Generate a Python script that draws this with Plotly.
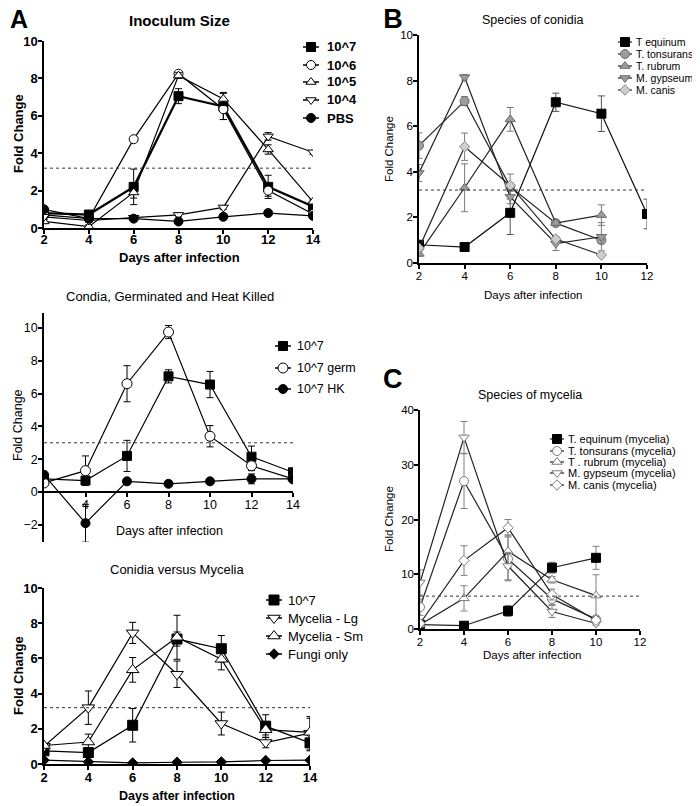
import plotly.graph_objects as go

W, H = 700, 806
FONT = "Arial, 'Liberation Sans', sans-serif"
# the page body places the plot 8px from the window's top-left corner;
# positions below are given in window pixels and shifted back by this offset
OFF_X, OFF_Y = 8, 8

# ---------------- DATA ----------------
days14 = [2, 4, 6, 8, 10, 12, 14]
days12 = [2, 4, 6, 8, 10, 12]
days10 = [2, 4, 6, 8, 10]

# Panel A (top) - Inoculum Size
a1_names = ["10^7", "10^6", "10^5", "10^4", "PBS"]
a1_e7 = [0.8, 0.72, 2.2, 7.05, 6.5, 2.2, 1.15]
a1_e7_err = [0.1, 0.1, 0.95, 0.4, 0.7, 0.62, 0.15]
a1_e6 = [0.7, 0.5, 4.75, 8.25, 6.35, 2.0, 0.75]
a1_e6_err = [0.1, 0.1, 0.1, 0.1, 0.55, 0.3, 0.1]
a1_e5 = [0.35, 0.07, 1.9, 8.15, 6.9, 4.2, 1.4]
a1_e5_err = [0.1, 0.1, 0.3, 0.15, 0.35, 0.25, 0.1]
a1_e4 = [0.6, 0.4, 0.55, 0.7, 1.1, 4.9, 4.05]
a1_e4_err = [0.1, 0.1, 0.1, 0.1, 0.1, 0.2, 0.1]
a1_pbs = [1.0, 0.5, 0.5, 0.35, 0.6, 0.8, 0.65]
a1_pbs_err = [0.1, 0.1, 0.1, 0.1, 0.1, 0.1, 0.1]

# Panel A (middle) - Condia, Germinated and Heat Killed
a2_names = ["10^7", "10^7 germ", "10^7 HK"]
a2_e7 = [0.8, 0.7, 2.2, 7.05, 6.55, 2.15, 1.2]
a2_e7_err = [0.1, 0.1, 0.95, 0.4, 0.8, 0.65, 0.15]
a2_germ = [0.55, 1.3, 6.6, 9.75, 3.4, 1.6, 0.8]
a2_germ_err = [0.1, 0.9, 1.1, 0.4, 0.65, 0.3, 0.1]
a2_hk = [1.05, -1.9, 0.65, 0.5, 0.65, 0.8, 0.8]
a2_hk_err = [0.1, 1.15, 0.1, 0.1, 0.1, 0.3, 0.1]

# Panel A (bottom) - Conidia versus Mycelia
a3_names = ["10^7", "Mycelia - Lg", "Mycelia - Sm", "Fungi only"]
a3_e7 = [0.75, 0.65, 2.2, 7.1, 6.55, 2.15, 1.2]
a3_e7_err = [0.1, 0.1, 0.95, 0.4, 0.75, 0.65, 0.45]
a3_lg = [1.0, 3.2, 7.45, 5.1, 2.3, 1.22, 1.75]
a3_lg_err = [0.1, 0.95, 0.6, 0.75, 0.65, 0.3, 0.95]
a3_sm = [1.05, 1.25, 5.35, 7.2, 5.95, 1.95, 1.8]
a3_sm_err = [0.1, 0.45, 0.7, 1.25, 0.6, 0.3, 0.8]
a3_fungi = [0.22, 0.12, 0.06, 0.1, 0.12, 0.2, 0.22]
a3_fungi_err = [0.05, 0.05, 0.05, 0.05, 0.05, 0.05, 0.05]

# Panel B - Species of conidia
b_names = ["T equinum", "T. tonsurans", "T. rubrum", "M. gypseum", "M. canis"]
b_equ = [0.8, 0.7, 2.2, 7.05, 6.55, 2.15]
b_equ_err = [0.1, 0.1, 0.95, 0.4, 0.78, 0.65]
b_ton = [5.15, 7.1, 3.35, 1.75, 1.0]
b_ton_err = [0.56, 0.2, 0.55, 0.1, 0.15]
b_rub = [0.4, 3.3, 6.3, 1.75, 2.1]
b_rub_err = [0.1, 1.05, 0.52, 0.1, 0.45]
b_gyp = [3.95, 8.15, 2.9, 0.85, 1.15]
b_gyp_err = [0.37, 0.12, 0.3, 0.3, 0.62]
b_can = [0.65, 5.1, 3.4, 1.05, 0.35]
b_can_err = [0.1, 0.6, 0.1, 0.1, 0.05]

# Panel C - Species of mycelia
c_names = ["T. equinum (mycelia)", "T. tonsurans (mycelia)", "T . rubrum (mycelia)",
           "M. gypseum (mycelia)", "M. canis (mycelia)"]
c_equ = [0.8, 0.6, 3.3, 11.2, 13.0]
c_equ_err = [0.2, 0.2, 1.0, 1.0, 2.1]
c_ton = [4.0, 27.0, 12.8, 5.5, 1.8]
c_ton_err = [1.5, 5.0, 4.0, 1.0, 0.5]
c_rub = [0.8, 5.6, 14.2, 9.0, 6.1]
c_rub_err = [0.4, 2.3, 3.0, 0.6, 3.8]
c_gyp = [8.5, 35.0, 11.5, 3.2, 1.0]
c_gyp_err = [2.3, 2.9, 2.5, 1.1, 0.3]
c_can = [1.0, 12.5, 18.5, 6.3, 1.6]
c_can_err = [0.4, 2.7, 1.5, 1.0, 0.4]

# threshold (dotted) lines
thresholds = [3.2, 3.0, 3.2, 3.2, 6.0]

# ---------------- LAYOUT HELPERS ----------------
def px(x):
    return (x - OFF_X) / W


def py(y):
    return 1 - (y - OFF_Y) / H


fig = go.Figure()

panels = [
    dict(xd=(44, 313), yd=(41, 228), xr=[2, 14], yr=[0, 10], xt=days14, yt=[0, 2, 4, 6, 8, 10],
         font=dict(family=FONT, size=13, color="black", weight="bold"), xso=-5, yso=-2),
    dict(xd=(44, 293), yd=(313.2, 541.7), xr=[2, 14], yr=[-3.03, 10.9], xt=[4, 6, 8, 10, 12, 14],
         yt=[-2, 0, 2, 4, 6, 8, 10], font=dict(family=FONT, size=12.5, color="black"), xso=-3, yso=-2),
    dict(xd=(44, 310), yd=(588, 764), xr=[2, 14], yr=[0, 10], xt=days14, yt=[0, 2, 4, 6, 8, 10],
         font=dict(family=FONT, size=13, color="black", weight="bold"), xso=-3, yso=-2),
    dict(xd=(419, 647), yd=(35, 263), xr=[2, 12], yr=[0, 10], xt=days12, yt=[0, 2, 4, 6, 8, 10],
         font=dict(family=FONT, size=11.5, color="black"), xso=-3, yso=-2),
    dict(xd=(420, 640), yd=(410, 629), xr=[2, 12], yr=[0, 40], xt=days12, yt=[0, 10, 20, 30, 40],
         font=dict(family=FONT, size=11.5, color="black"), xso=-3, yso=-2),
]

layout_axes = {}
for i, p in enumerate(panels, start=1):
    xs = "" if i == 1 else str(i)
    common = dict(showline=True, linecolor="black", linewidth=1.5, ticks="outside", ticklen=4,
                  tickwidth=1.5, tickcolor="black", showgrid=False, zeroline=False,
                  tickfont=p["font"], fixedrange=True, automargin=False)
    xa = dict(domain=[px(p["xd"][0]), px(p["xd"][1])], range=p["xr"], tickvals=p["xt"],
              anchor="y" + xs, ticklabelstandoff=p["xso"], **common)
    ya = dict(domain=[py(p["yd"][1]), py(p["yd"][0])], range=p["yr"], tickvals=p["yt"],
              anchor="x" + xs, ticklabelstandoff=p["yso"], **common)
    if i == 2:
        xa["anchor"] = "free"
        xa["position"] = py(492)
    layout_axes["xaxis" + xs] = xa
    layout_axes["yaxis" + xs] = ya

# overlay axis (window-pixel coordinates) for legend glyphs
layout_axes["xaxis6"] = dict(domain=[0, 1], range=[OFF_X, W + OFF_X], visible=False, anchor="y6",
                             fixedrange=True, automargin=False)
layout_axes["yaxis6"] = dict(domain=[0, 1], range=[H + OFF_Y, OFF_Y], visible=False, anchor="x6",
                             fixedrange=True, automargin=False)


def marker(sym, fill, edge, size):
    return dict(symbol=sym, color=fill, size=size, line=dict(color=edge, width=1))


def add_series(i, xs, ys, errs, mk, lcol="black", lw=1.2, ecol="black"):
    s = "" if i == 1 else str(i)
    fig.add_trace(go.Scatter(
        x=xs, y=ys, mode="lines+markers", xaxis="x" + s, yaxis="y" + s,
        line=dict(color=lcol, width=lw), marker=mk, showlegend=False,
        error_y=dict(type="data", array=errs, visible=True, color=ecol, thickness=1, width=3.5),
    ))


annotations = []


def text(x, y, t, size, bold=False, anchor="center", angle=0, box=None):
    ann = dict(
        x=px(x), y=py(y), xref="paper", yref="paper", text=t, showarrow=False,
        xanchor=anchor, yanchor="middle", textangle=angle,
        font=dict(family=FONT, size=size, color="black", weight="bold" if bold else "normal"))
    if box is not None:
        ann.update(width=box[0], height=box[1], borderpad=0, borderwidth=0, valign="middle")
    annotations.append(ann)


def legend_items(names, mks, lx, text_x, ys, size, bold=False, lcol="black", lw=1.5, half=8):
    for nm, mk, yy in zip(names, mks, ys):
        fig.add_trace(go.Scatter(
            x=[lx - half, lx, lx + half], y=[yy, yy, yy], xaxis="x6", yaxis="y6",
            mode="lines+markers", line=dict(color=lcol, width=lw),
            marker=dict(symbol=mk["symbol"], color=mk["color"], size=[0, mk["size"], 0],
                        line=mk["line"], opacity=[0, 1, 0]),
            showlegend=False, hoverinfo="skip"))
        text(text_x, yy, nm, size, bold, anchor="left")


# ---------------- PANEL A top ----------------
BLK = "black"
WHT = "white"
mk_a1 = [marker("square", BLK, BLK, 9), marker("circle", WHT, BLK, 9),
         marker("triangle-up", WHT, BLK, 9), marker("triangle-down", WHT, BLK, 9),
         marker("circle", BLK, BLK, 9)]
for ys, es, mk, lw in zip([a1_e7, a1_e6, a1_e5, a1_e4, a1_pbs],
                          [a1_e7_err, a1_e6_err, a1_e5_err, a1_e4_err, a1_pbs_err],
                          mk_a1, [2.2, 1.2, 1.2, 1.2, 1.2]):
    add_series(1, days14, ys, es, mk, lw=lw)
legend_items(a1_names, mk_a1, 311, 325, [47, 65, 82, 100, 118], 13, bold=True)

# ---------------- PANEL A middle ----------------
mk_a2 = [marker("square", BLK, BLK, 9), marker("circle", WHT, BLK, 10), marker("circle", BLK, BLK, 9)]
for ys, es, mk in zip([a2_e7, a2_germ, a2_hk], [a2_e7_err, a2_germ_err, a2_hk_err], mk_a2):
    add_series(2, days14, ys, es, mk)
legend_items(a2_names, mk_a2, 283, 295, [346, 368, 389], 12.5)

# ---------------- PANEL A bottom ----------------
mk_a3 = [marker("square", BLK, BLK, 10), marker("triangle-down", WHT, BLK, 11),
         marker("triangle-up", WHT, BLK, 11), marker("diamond", BLK, BLK, 8)]
for ys, es, mk in zip([a3_e7, a3_lg, a3_sm, a3_fungi],
                      [a3_e7_err, a3_lg_err, a3_sm_err, a3_fungi_err], mk_a3):
    add_series(3, days14, ys, es, mk)
legend_items(a3_names, mk_a3, 274, 286, [600, 618, 636, 654], 13)

# ---------------- PANEL B ----------------
G = "#9c9c9c"
GE = "#6a6a6a"
mk_b = [marker("square", BLK, BLK, 9), marker("circle", G, GE, 9), marker("triangle-up", G, GE, 9),
        marker("triangle-down", G, GE, 9), marker("diamond", "#cdcdcd", "#8a8a8a", 8)]
add_series(4, days12, b_equ, b_equ_err, mk_b[0], lcol="#111111", ecol="#555555")
for ys, es, mk in zip([b_ton, b_rub, b_gyp, b_can], [b_ton_err, b_rub_err, b_gyp_err, b_can_err], mk_b[1:]):
    add_series(4, days10, ys, es, mk, lcol="#222222", ecol="#7a7a7a")
legend_items(b_names, mk_b, 625, 634, [42, 54, 66, 78, 90], 10.5, lcol="#222222", lw=1.2, half=7)

# ---------------- PANEL C ----------------
CE = "#7a7a7a"
mk_c = [marker("square", BLK, BLK, 9), marker("circle", WHT, CE, 9), marker("triangle-up", WHT, CE, 9),
        marker("triangle-down", WHT, CE, 9), marker("diamond", WHT, CE, 8)]
for ys, es, mk in zip([c_equ, c_ton, c_rub, c_gyp, c_can],
                      [c_equ_err, c_ton_err, c_rub_err, c_gyp_err, c_can_err], mk_c):
    add_series(5, days10, ys, es, mk, lcol="#222222", ecol="#808080")
legend_items(c_names, mk_c, 557, 566, [439, 451, 462, 473, 485], 11, lcol="#222222", lw=1.2, half=7)

# ---------------- threshold lines ----------------
shapes = []
for i, (p, th) in enumerate(zip(panels, thresholds), start=1):
    s = "" if i == 1 else str(i)
    shapes.append(dict(type="line", xref="x" + s, yref="y" + s, x0=p["xr"][0], x1=p["xr"][1],
                       y0=th, y1=th, line=dict(color="#333333", width=1, dash="dot")))

# ---------------- texts ----------------
text(19, 19, "A", 25, bold=True, box=(22, 21))
text(393, 19, "B", 27, bold=True, box=(22, 22))
text(393, 379, "C", 27, bold=True)

text(179, 20, "Inoculum Size", 15, bold=True)
text(170, 296, "Condia, Germinated and Heat Killed", 13)
text(177, 569, "Conidia versus Mycelia", 13)
text(533, 20, "Species of conidia", 12.5)
text(530, 395, "Species of mycelia", 12.5)

text(179, 258, "Days after infection", 13, bold=True)
text(169, 531, "Days after infection", 12.5)
text(177, 796, "Days after infection", 12.5, bold=True)
text(533, 295, "Days after infection", 11.5)
text(532, 655, "Days after infection", 11.5)

text(18, 134, "Fold Change", 13, bold=True, angle=-90)
text(18, 425, "Fold Change", 12.5, angle=-90)
text(18, 676, "Fold Change", 13, bold=True, angle=-90)
text(389, 149, "Fold Change", 11.5, angle=-90)
text(389, 519, "Fold Change", 11.5, angle=-90)

fig.update_layout(
    template="none",
    width=W, height=H, margin=dict(l=0, r=0, t=0, b=0, pad=0, autoexpand=False),
    paper_bgcolor="white", plot_bgcolor="rgba(0,0,0,0)",
    showlegend=False, annotations=annotations, shapes=shapes,
    font=dict(family=FONT, color="black"),
    **layout_axes,
)

fig.write_html("out.html")
